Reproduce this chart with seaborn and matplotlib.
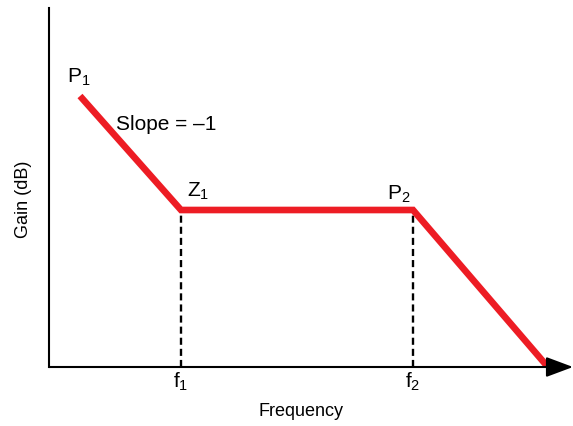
import seaborn as sns
import pandas as pd
import matplotlib.pyplot as plt

# corner frequencies / gain of the asymptotic Bode sketch (arbitrary units)
freq = [31, 132, 364, 498]
gain = [271, 157, 157, 1]
point_labels = ['P$_1$', 'Z$_1$', 'P$_2$']
tick_pos = [132, 364]
tick_labels = ['f$_1$', 'f$_2$']

sns.set_theme(style='white')
plt.rcParams['font.family'] = ['Liberation Sans', 'DejaVu Sans']
plt.rcParams['mathtext.default'] = 'regular'

fig = plt.figure(figsize=(5.73, 4.27), dpi=100)
ax = fig.add_axes([49 / 573, 59 / 427, 524 / 573, 359 / 427])

df = pd.DataFrame({'freq': freq, 'gain': gain})
sns.lineplot(data=df, x='freq', y='gain', sort=False, estimator=None,
             color='#ED1C24', lw=4.8, ax=ax,
             solid_capstyle='butt', solid_joinstyle='miter', zorder=3)

# dashed drop lines from the corners to the axis
for f in tick_pos:
    g = gain[freq.index(f)]
    sns.lineplot(x=[f, f], y=[0, g], estimator=None, sort=False,
                 color='black', lw=1.7, linestyle=(0, (3, 1.7)), ax=ax, zorder=2)

ax.set_xlim(0, 524)
ax.set_ylim(0, 359)

# labels of the break points
offsets = [(-13, 14), (6, 14), (-26, 11)]
for lab, x, y, (dx, dy) in zip(point_labels, freq, gain, offsets):
    ax.text(x + dx, y + dy, lab, fontsize=15, ha='left', va='baseline', color='black')
ax.text(67, 244, 'Slope = \u20131', fontsize=15, ha='left', va='center', color='black')

ax.set_xticks(tick_pos)
ax.set_xticklabels(tick_labels, fontsize=15, color='black')
ax.set_yticks([])
ax.tick_params(axis='x', length=0, pad=2)

ax.set_xlabel('Frequency', fontsize=13, color='black')
ax.set_ylabel('Gain (dB)', fontsize=13, color='black')
ax.xaxis.set_label_coords(252 / 524, -0.097)
ax.yaxis.set_label_coords(-0.032, 0.47)

for s in ['top', 'right', 'bottom']:
    ax.spines[s].set_visible(False)
ax.spines['left'].set_color('black')
ax.spines['left'].set_linewidth(1.5)

# x axis drawn as an arrow
ax.annotate('', xy=(524, 0), xytext=(0, 0),
            arrowprops=dict(arrowstyle='-|>,head_length=0.83,head_width=0.31',
                            color='black', lw=1.5, shrinkA=0, shrinkB=0,
                            mutation_scale=20))

plt.savefig('out.png', dpi=100)
